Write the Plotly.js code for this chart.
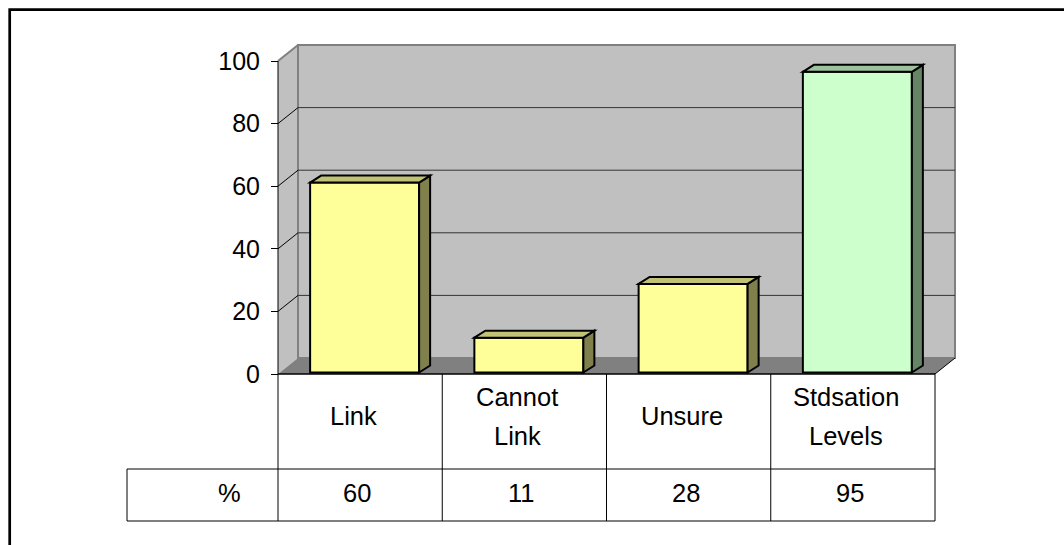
<!DOCTYPE html>
<html>
<head>
<meta charset="utf-8">
<script src="https://cdn.plot.ly/plotly-3.0.1.min.js"></script>
<style>
  html, body { margin: 0; padding: 0; background: #ffffff; }
  #chart { width: 1064px; height: 545px; }
</style>
</head>
<body>
<div id="chart"></div>
<script>
// ---------- data ----------
const categories = ['Link', 'Cannot\nLink', 'Unsure', 'Stdsation\nLevels'];
const seriesName = '%';
const values = [60, 11, 28, 95];
const yTickVals = [0, 20, 40, 60, 80, 100];
const yTickText = ['0', '20', '40', '60', '80', '100'];

// ---------- styling / layout constants ----------
const FONT = 'Liberation Sans, Arial, sans-serif';
const FS = 25.5;
const TICKFS = 25;
const frontColors = ['#FFFF99', '#FFFF99', '#FFFF99', '#CCFFCC'];
const sideColors  = ['#80804C', '#80804C', '#80804C', '#668566'];
const topColors   = ['#C2C276', '#C2C276', '#C2C276', '#9CC39C'];

const W = 1064, H = 545;
const PX = { left: 120, right: 957, top: 43, bottom: 374 };
const frontLeftPx = 278;           // front plane left (y axis) pixel
const xUnit = 164.25;              // px per category
const yUnit = 3.13;                // px per value unit (front plane)
const y2Unit = 3.165;              // px per value unit (bars)
const barBasePx = 372.5;
const xmin = -0.5 - (frontLeftPx - PX.left) / xUnit;
const xmax = -0.5 + (PX.right - frontLeftPx) / xUnit;
const ymax = (PX.bottom - PX.top) / yUnit;
const y2min = -(PX.bottom - barBasePx) / y2Unit;
const y2max = (barBasePx - PX.top) / y2Unit;

const wdX = 20 / xUnit, wdY = 16 / yUnit;     // wall depth
const bdX = 11 / xUnit, bdY = 7 / y2Unit;     // bar depth
const barW = 109 / xUnit;
const barShift = 4.5 / xUnit;
const barOffset = barShift - barW / 2;

const nCat = categories.length;
const xL = -0.5, xR = nCat - 0.5;
const xBL = xL + wdX, xBR = xR + wdX;
const topV = yTickVals[yTickVals.length - 1];

function paperY(py) { return (PX.bottom - py) / (PX.bottom - PX.top); }
function paperX(px) { return (px - PX.left) / (PX.right - PX.left); }

const shapes = [];
// left wall
shapes.push({type: 'path', xref: 'x', yref: 'y', layer: 'below',
  path: `M${xL},0 L${xBL},${wdY} L${xBL},${topV + wdY} L${xL},${topV} Z`,
  fillcolor: '#C0C0C0', line: {width: 0}});
// back wall
shapes.push({type: 'rect', xref: 'x', yref: 'y', layer: 'below',
  x0: xBL, x1: xBR, y0: wdY, y1: topV + wdY,
  fillcolor: '#C0C0C0', line: {color: '#808080', width: 2}});
// floor
shapes.push({type: 'path', xref: 'x', yref: 'y', layer: 'below',
  path: `M${xL},0 L${xR},0 L${xBR},${wdY} L${xBL},${wdY} Z`,
  fillcolor: '#808080', line: {width: 0}});
// left wall top edge
shapes.push({type: 'line', xref: 'x', yref: 'y', layer: 'below',
  x0: xL, y0: topV, x1: xBL, y1: topV + wdY, line: {color: '#808080', width: 2}});
// gridlines on back wall + slanted lines on side wall
yTickVals.forEach(v => {
  if (v === 0 || v === topV) return;
  shapes.push({type: 'line', xref: 'x', yref: 'y', layer: 'below',
    x0: xBL, x1: xBR, y0: v + wdY, y1: v + wdY, line: {color: '#333333', width: 1}});
  shapes.push({type: 'line', xref: 'x', yref: 'y', layer: 'below',
    x0: xL, x1: xBL, y0: v, y1: v + wdY, line: {color: '#000000', width: 1}});
});
// floor right edge
shapes.push({type: 'line', xref: 'x', yref: 'y', layer: 'below',
  x0: xR, y0: 0, x1: xBR, y1: wdY, line: {color: '#000000', width: 1}});
// y axis line (front plane)
shapes.push({type: 'line', xref: 'x', yref: 'y', layer: 'above',
  x0: xL, x1: xL, y0: 0, y1: topV, line: {color: '#000000', width: 1}});

// bar 3D faces
values.forEach((v, i) => {
  const x0 = i + barOffset, x1 = x0 + barW;
  shapes.push({type: 'path', xref: 'x', yref: 'y2', layer: 'above',
    path: `M${x1},0 L${x1 + bdX},${bdY} L${x1 + bdX},${v + bdY} L${x1},${v} Z`,
    fillcolor: sideColors[i], line: {color: '#000000', width: 2}});
  shapes.push({type: 'path', xref: 'x', yref: 'y2', layer: 'above',
    path: `M${x0},${v} L${x0 + bdX},${v + bdY} L${x1 + bdX},${v + bdY} L${x1},${v} Z`,
    fillcolor: topColors[i], line: {color: '#000000', width: 2}});
});

// data table
const rowTopPx = 374, rowMidPx = 469, rowBotPx = 521, tableLeftPx = 127;
const tableLeftX = -0.5 - (frontLeftPx - tableLeftPx) / xUnit;
// front edge / table top
shapes.push({type: 'line', xref: 'x', yref: 'paper', layer: 'above',
  x0: xL, x1: xR, y0: paperY(rowTopPx), y1: paperY(rowTopPx), line: {color: '#000000', width: 1.5}});
for (let k = 0; k <= nCat; k++) {
  shapes.push({type: 'line', xref: 'x', yref: 'paper', layer: 'above',
    x0: k - 0.5, x1: k - 0.5, y0: paperY(rowTopPx), y1: paperY(rowBotPx), line: {color: '#000000', width: 1}});
}
[rowMidPx, rowBotPx].forEach(py => {
  shapes.push({type: 'line', xref: 'x', yref: 'paper', layer: 'above',
    x0: tableLeftX, x1: xR, y0: paperY(py), y1: paperY(py), line: {color: '#000000', width: 1}});
});
shapes.push({type: 'line', xref: 'x', yref: 'paper', layer: 'above',
  x0: tableLeftX, x1: tableLeftX, y0: paperY(rowMidPx), y1: paperY(rowBotPx), line: {color: '#000000', width: 1}});

// outer chart border (top + left visible)
shapes.push({type: 'path', xref: 'paper', yref: 'paper', layer: 'above',
  path: `M${paperX(9.7)},${paperY(600)} L${paperX(9.7)},${paperY(9.7)} L${paperX(1100)},${paperY(9.7)}`,
  line: {color: '#000000', width: 2.7}});

// annotations (table text)
const annotations = [];
const hdrShift = -7 / xUnit, valShift = -3 / xUnit;
categories.forEach((c, i) => {
  const lines = c.split('\n');
  const ys = lines.length === 1 ? [416.2] : [397.2, 435.8];
  lines.forEach((ln, j) => {
    annotations.push({xref: 'x', yref: 'paper', x: i + hdrShift, y: paperY(ys[j]),
      text: ln, showarrow: false, xanchor: 'center', yanchor: 'middle',
      font: {family: FONT, size: FS, color: '#000000'}});
  });
});
values.forEach((v, i) => {
  annotations.push({xref: 'x', yref: 'paper', x: i + valShift, y: paperY(493.3),
    text: String(v), showarrow: false, xanchor: 'center', yanchor: 'middle',
    font: {family: FONT, size: FS, color: '#000000'}});
});
annotations.push({xref: 'x', yref: 'paper', x: -0.5 - (frontLeftPx - 229) / xUnit, y: paperY(493.3),
  text: seriesName, showarrow: false, xanchor: 'center', yanchor: 'middle',
  font: {family: FONT, size: FS, color: '#000000'}});

const trace = {
  type: 'bar',
  name: seriesName,
  x: values.map((_, i) => i),
  y: values,
  base: 0,
  width: barW,
  offset: barOffset,
  xaxis: 'x',
  yaxis: 'y2',
  marker: {color: frontColors, line: {color: '#000000', width: 2}},
  hoverinfo: 'skip'
};

const layout = {
  width: W, height: H,
  margin: {l: PX.left, r: W - PX.right, t: PX.top, b: H - PX.bottom, pad: 0},
  paper_bgcolor: '#FFFFFF',
  plot_bgcolor: 'rgba(0,0,0,0)',
  showlegend: false,
  xaxis: {range: [xmin, xmax], visible: false, fixedrange: true},
  yaxis: {
    range: [0, ymax], anchor: 'free', position: paperX(frontLeftPx),
    tickvals: yTickVals, ticktext: yTickText,
    ticks: 'outside', ticklen: 7, tickwidth: 1, tickcolor: '#000000',
    ticklabelstandoff: 6,
    showgrid: false, zeroline: false, showline: false,
    tickfont: {family: FONT, size: TICKFS, color: '#000000'},
    fixedrange: true
  },
  yaxis2: {range: [y2min, y2max], overlaying: 'y', anchor: 'x', visible: false, fixedrange: true},
  shapes: shapes,
  annotations: annotations,
  bargap: 0
};

Plotly.newPlot('chart', [trace], layout, {staticPlot: true, displayModeBar: false});
</script>
</body>
</html>
